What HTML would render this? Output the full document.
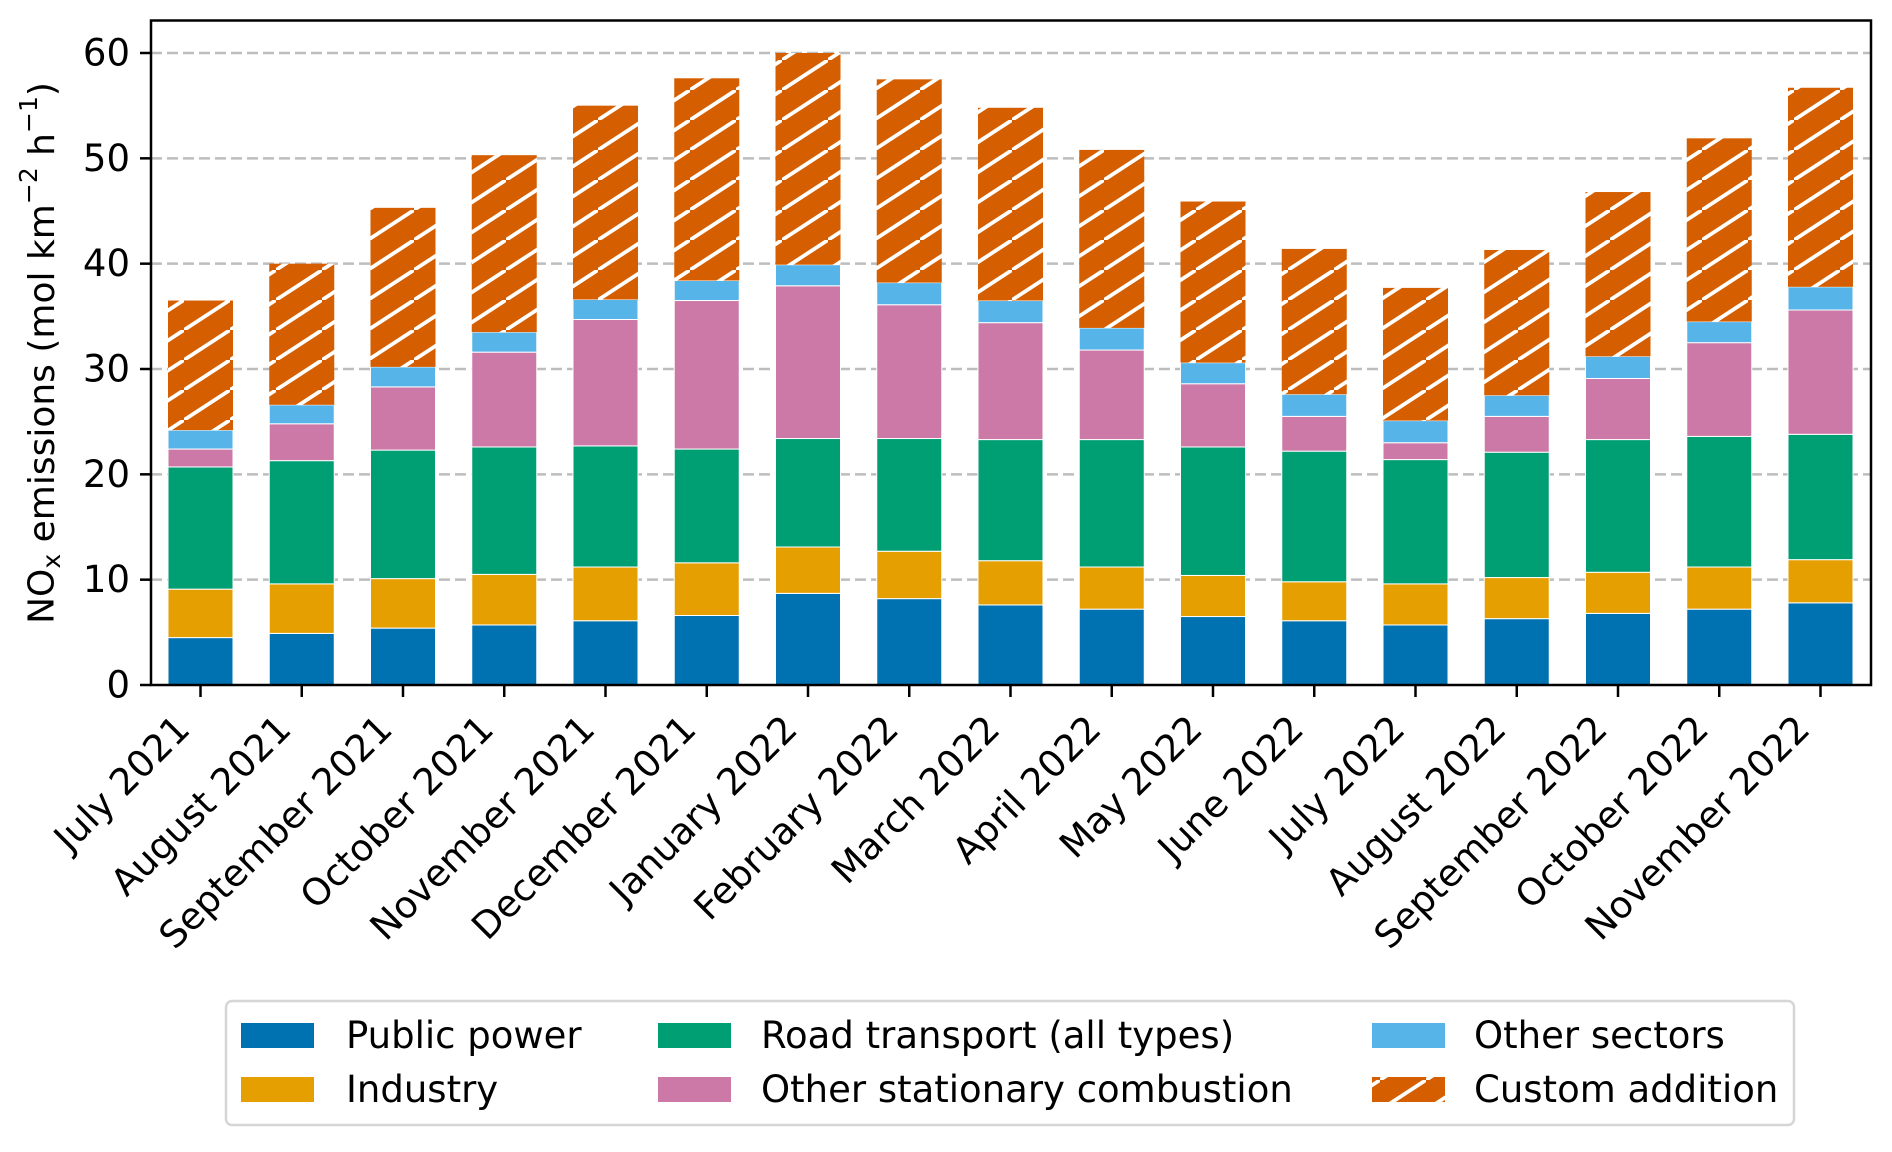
<!DOCTYPE html>
<html><head><meta charset="utf-8"><style>
html,body{margin:0;padding:0;background:#fff;}
svg text{font-family:"DejaVu Sans","Liberation Sans",sans-serif;fill:#000;}
</style></head><body>
<svg id="chart" width="1892" height="1147" viewBox="0 0 1892 1147" xmlns="http://www.w3.org/2000/svg">
<defs>
<pattern id="hatch" patternUnits="userSpaceOnUse" width="46" height="30">
<rect width="46" height="30" fill="#d55e00"/>
<line x1="-11.5" y1="37.5" x2="57.5" y2="-7.5" stroke="#fff" stroke-width="3.8"/>
</pattern>
</defs>
<g id="grid"></g>
<g id="bars"></g>
<rect x="151" y="20.5" width="1720" height="664.5" fill="none" stroke="#000" stroke-width="2.5"/>
<g id="yaxis"></g>
<g id="xaxis"></g>
<text transform="translate(42,353) rotate(-90)" text-anchor="middle" dominant-baseline="central" font-size="36">NO<tspan font-size="25" dy="9">x</tspan><tspan dy="-9"> emissions (mol km</tspan><tspan font-size="25" dy="-14">−2</tspan><tspan dy="14"> h</tspan><tspan font-size="25" dy="-14">−1</tspan><tspan dy="14">)</tspan></text>
<g id="legend">
<rect x="226" y="1001" width="1568" height="124" rx="6" fill="#fff" stroke="#d6d6d6" stroke-width="2.5"/>
</g>
</svg>
<script>
const categories=["July 2021","August 2021","September 2021","October 2021","November 2021","December 2021","January 2022","February 2022","March 2022","April 2022","May 2022","June 2022","July 2022","August 2022","September 2022","October 2022","November 2022"];
const publicPower=[4.5,4.9,5.4,5.7,6.1,6.6,8.7,8.2,7.6,7.2,6.5,6.1,5.7,6.3,6.8,7.2,7.8];
const industry=[4.6,4.7,4.7,4.8,5.1,5.0,4.4,4.5,4.2,4.0,3.9,3.7,3.9,3.9,3.9,4.0,4.1];
const roadTransport=[11.6,11.7,12.2,12.1,11.5,10.8,10.3,10.7,11.5,12.1,12.2,12.4,11.8,11.9,12.6,12.4,11.9];
const otherStationary=[1.7,3.5,6.0,9.0,12.0,14.1,14.5,12.7,11.1,8.5,6.0,3.3,1.6,3.4,5.8,8.9,11.8];
const otherSectors=[1.8,1.8,1.9,1.9,1.9,1.9,2.0,2.1,2.1,2.1,2.0,2.1,2.1,2.0,2.1,2.0,2.2];
const customAddition=[12.3,13.4,15.1,16.8,18.4,19.2,20.1,19.3,18.3,16.9,15.3,13.8,12.6,13.8,15.6,17.4,18.9];
const yTicks=[0,10,20,30,40,50,60];
const legendLabels=["Public power","Industry","Road transport (all types)","Other stationary combustion","Other sectors","Custom addition"];

const NS="http://www.w3.org/2000/svg";
const X0=200.5, DX=101.25, BW=65;
const Y0=685, PPU=(685-53)/60;
const xPos=i=>X0+i*DX;
const yPos=v=>Y0-v*PPU;
function mk(tag,attrs,parent){const e=document.createElementNS(NS,tag);for(const k in attrs)e.setAttribute(k,attrs[k]);parent.appendChild(e);return e;}

const grid=document.getElementById('grid'),yaxis=document.getElementById('yaxis'),xaxis=document.getElementById('xaxis'),bars=document.getElementById('bars'),legend=document.getElementById('legend');
yTicks.forEach(t=>{
  if(t>0){const g=mk('line',{x1:151,x2:1871,y1:yPos(t),y2:yPos(t),stroke:'#bdbdbd','stroke-width':2.5,'stroke-dasharray':'11 5'},grid);
  
  }
  const tk=mk('line',{x1:140,x2:151,y1:yPos(t),y2:yPos(t),stroke:'#000','stroke-width':2.5},yaxis);
  
  
  const lb=mk('text',{x:130,y:yPos(t),'text-anchor':'end','dominant-baseline':'central','font-size':37},yaxis);
  
  
  lb.textContent=t;
});
const series=[[publicPower,'#0072b2'],[industry,'#e69f00'],[roadTransport,'#009e73'],[otherStationary,'#cc79a7'],[otherSectors,'#56b4e9'],[customAddition,'url(#hatch)']];
const segNames=['bar-public-power','bar-industry','bar-road-transport','bar-other-stationary','bar-other-sectors','bar-custom-addition'];
categories.forEach((c,i)=>{
  let base=0;
  series.forEach(([arr,col],s)=>{
    const v=arr[i];
    const r=mk('rect',{x:xPos(i)-BW/2,y:yPos(base+v),width:BW,height:v*PPU,fill:col,stroke:s===5?'none':'#fff','stroke-width':1},bars);
    
    
    base+=v;
  });
  const tk=mk('line',{x1:xPos(i),x2:xPos(i),y1:685,y2:697,stroke:'#000','stroke-width':2.5},xaxis);
  
  
  const lb=mk('text',{transform:`translate(${xPos(i)-28},${712}) rotate(-45)`,'text-anchor':'end','dominant-baseline':'hanging','font-size':37},xaxis);
  
  
  lb.textContent=c;
});
const legPos=[[241,1023],[241,1077],[658,1023],[658,1077],[1372,1023],[1372,1077]];
const legText=[346,346,761,761,1474,1474];
legendLabels.forEach((l,i)=>{
  const [px,py]=legPos[i];
  const r=mk('rect',{x:px,y:py,width:73,height:25,fill:series[i][1]},legend);
  
  
  const t=mk('text',{x:legText[i],y:py+25,'font-size':37},legend);
  
  
  t.textContent=l;
});
</script>
</body></html>
